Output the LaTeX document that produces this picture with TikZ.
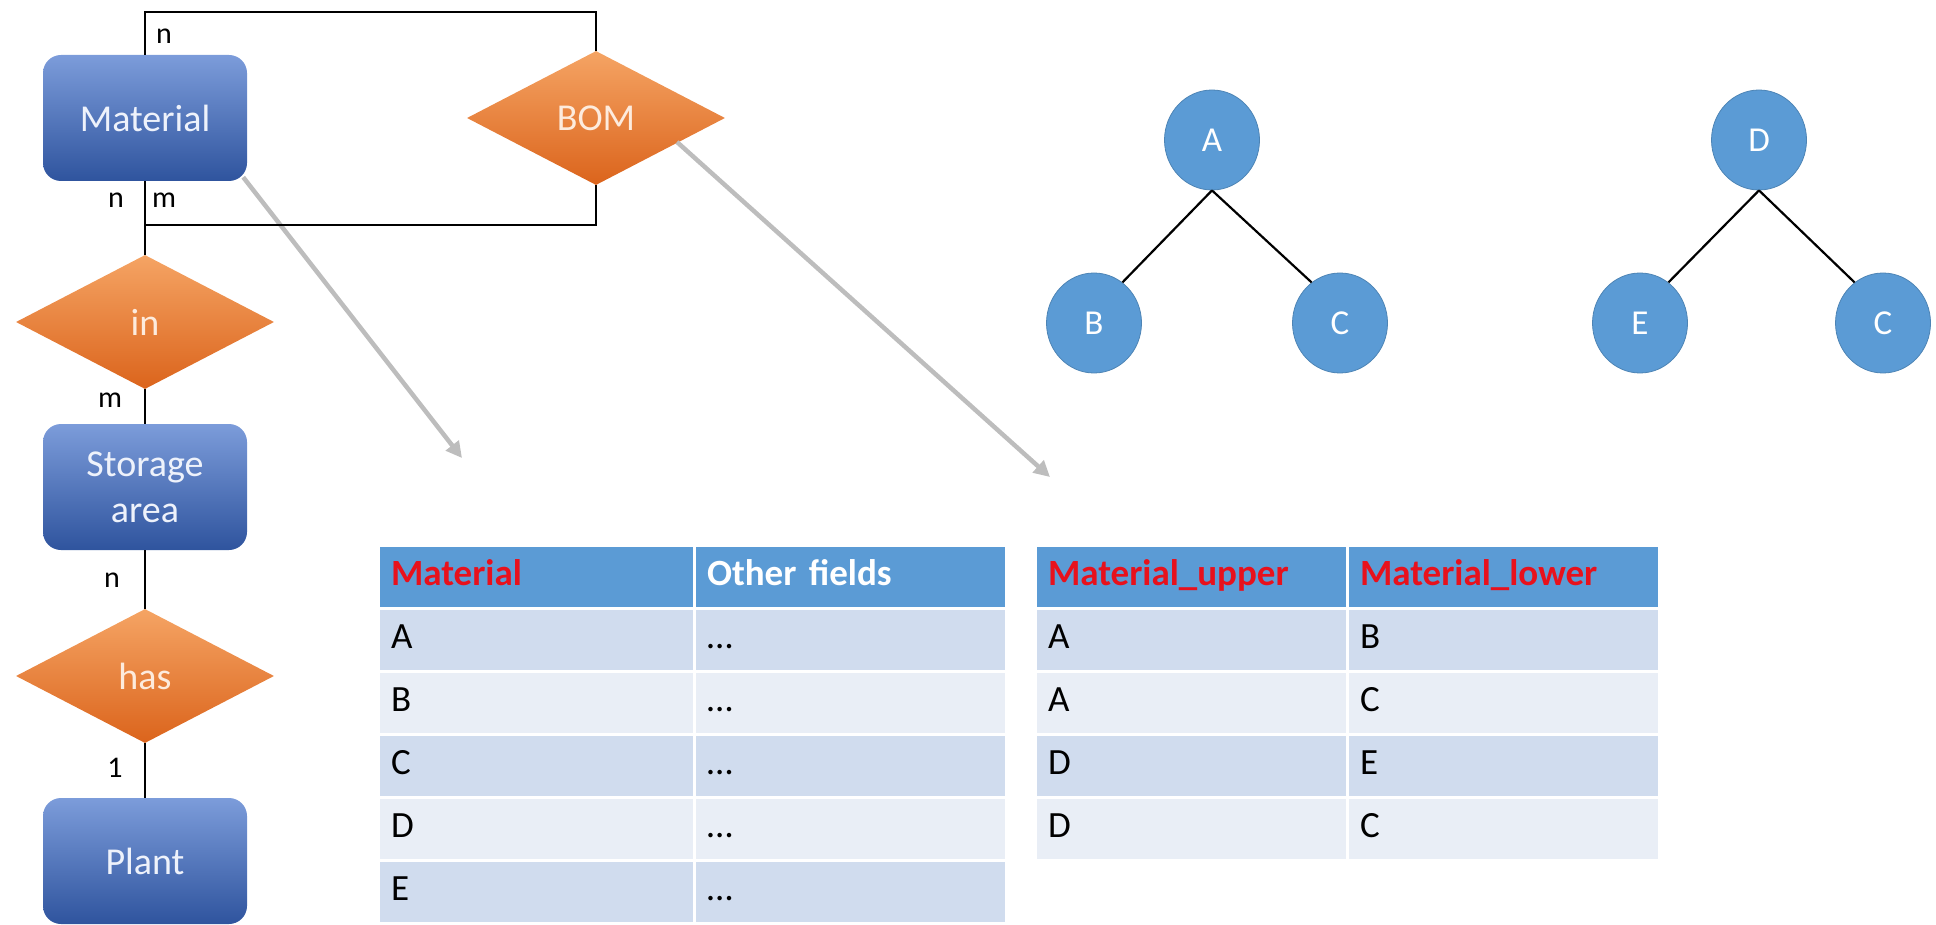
\documentclass[tikz,border=0pt]{standalone}
\usepackage{fontspec}
\setmainfont{Carlito}
\usetikzlibrary{shapes.geometric,arrows.meta}
\definecolor{boxtop}{HTML}{7C9CDA}
\definecolor{boxbot}{HTML}{2F549E}
\definecolor{ortop}{HTML}{F5A464}
\definecolor{orbot}{HTML}{DB641C}
\definecolor{hdr}{HTML}{5B9BD5}
\definecolor{rowa}{HTML}{D0DCEE}
\definecolor{rowb}{HTML}{E9EEF6}
\definecolor{hred}{HTML}{E8111C}
\definecolor{arrowgray}{HTML}{BDBDBD}
\definecolor{nodeblue}{HTML}{5B9BD5}
\definecolor{boxtext}{HTML}{EEF2FB}
\definecolor{reltext}{HTML}{FDEBDD}
\begin{document}
\begin{tikzpicture}[x=1pt,y=-1pt,
  entity/.style={rectangle, rounded corners=18pt, minimum width=204pt, minimum height=126pt,
    top color=boxtop, bottom color=boxbot, text=boxtext, font=\fontsize{38}{46}\selectfont,
    align=center, inner sep=0pt},
  rel/.style={diamond, minimum width=258pt, minimum height=134pt, top color=ortop,
    bottom color=orbot, text=reltext, font=\fontsize{38}{46}\selectfont, inner sep=0pt},
  link/.style={line width=2.5pt, black},
  card/.style={font=\fontsize{30}{36}\selectfont, inner sep=0pt, text=black},
  cell/.style={rectangle, draw=white, line width=3pt, minimum height=63pt, inner xsep=13pt,
    inner ysep=0pt, align=left, text height=26pt, text depth=8pt, font=\fontsize{37}{44}\selectfont},
  wideA/.style={minimum width=316pt, text width=290pt},
  wideB/.style={minimum width=312pt, text width=286pt},
  hcell/.style={cell, fill=hdr, font=\fontsize{37}{44}\selectfont\bfseries},
  rowA/.style={cell, fill=rowa},
  rowB/.style={cell, fill=rowb},
  tnode/.style={ellipse, fill=nodeblue, draw=nodeblue!85!black, line width=0.8pt,
    minimum width=95pt, minimum height=100pt, inner sep=0pt, text=white,
    font=\fontsize{35}{42}\selectfont},
  tedge/.style={line width=2.2pt, black},
  pointer/.style={arrowgray, line width=4.5pt, -{Triangle[length=16pt, width=16pt]}}
]
\useasboundingbox (0,0) rectangle (1936,925);

% ER entities and relations
\node[entity] (mat) at (145,118) {Material};
\node[rel] (bom) at (596,118) {BOM};
\node[rel] (in) at (145,322) {in};
\node[entity] (sto) at (145,487) {Storage\\area};
\node[rel] (has) at (145,676) {has};
\node[entity] (plant) at (145,861) {Plant};

\coordinate (tl) at (145,12);
\coordinate (tr) at (596,12);
\coordinate (bl) at (145,225);
\coordinate (br) at (596,225);

% gray pointers
\coordinate (p1) at (462,458);
\coordinate (q2) at (677,142);
\coordinate (p2) at (1050,477);
\draw[pointer] (mat.south east) ++(-4pt,4pt) -- (p1);
\draw[pointer] (q2) -- (p2);

% links
\draw[link] (mat.north) -- (tl) -- (tr) -- (bom.north);
\draw[link] (bl) -- (br) -- (bom.south);
\draw[link] (mat.south) -- (in.north);
\draw[link] (in.south) -- (sto.north);
\draw[link] (sto.south) -- (has.north);
\draw[link] (has.south) -- (plant.north);

% cardinalities
\node[card] (c1) at (164,36) {n};
\node[card] (c2) at (116,200) {n};
\node[card] (c3) at (164,200) {m};
\node[card] (c4) at (110,400) {m};
\node[card] (c5) at (112,580) {n};
\node[card] (c6) at (115,768) {1};

% table 1
\node[hcell, wideA, text=hred] (t1h1) at (536,576.5) {Material};
\node[hcell, wideB, text=white] (t1h2) at (850,576.5) {Other fields};
\node[rowA, wideA] (t1a1) at (536,639.5) {A};
\node[rowA, wideB] (t1a2) at (850,639.5) {…};
\node[rowB, wideA] (t1b1) at (536,702.5) {B};
\node[rowB, wideB] (t1b2) at (850,702.5) {…};
\node[rowA, wideA] (t1c1) at (536,765.5) {C};
\node[rowA, wideB] (t1c2) at (850,765.5) {…};
\node[rowB, wideA] (t1d1) at (536,828.5) {D};
\node[rowB, wideB] (t1d2) at (850,828.5) {…};
\node[rowA, wideA] (t1e1) at (536,891.5) {E};
\node[rowA, wideB] (t1e2) at (850,891.5) {…};

% table 2
\node[hcell, wideB, text=hred] (t2h1) at (1191,576.5) {Material\_upper};
\node[hcell, wideB, text=hred] (t2h2) at (1503,576.5) {Material\_lower};
\node[rowA, wideB] (t2a1) at (1191,639.5) {A};
\node[rowA, wideB] (t2a2) at (1503,639.5) {B};
\node[rowB, wideB] (t2b1) at (1191,702.5) {A};
\node[rowB, wideB] (t2b2) at (1503,702.5) {C};
\node[rowA, wideB] (t2c1) at (1191,765.5) {D};
\node[rowA, wideB] (t2c2) at (1503,765.5) {E};
\node[rowB, wideB] (t2d1) at (1191,828.5) {D};
\node[rowB, wideB] (t2d2) at (1503,828.5) {C};

% trees
\node[tnode] (A) at (1212,140) {A};
\node[tnode] (B) at (1094,323) {B};
\node[tnode] (C) at (1340,323) {C};
\node[tnode] (D) at (1759,140) {D};
\node[tnode] (E) at (1640,323) {E};
\node[tnode] (C2) at (1883,323) {C};
\draw[tedge] (A.south) -- (B.55);
\draw[tedge] (A.south) -- (C.125);
\draw[tedge] (D.south) -- (E.55);
\draw[tedge] (D.south) -- (C2.125);
\end{tikzpicture}
\end{document}
